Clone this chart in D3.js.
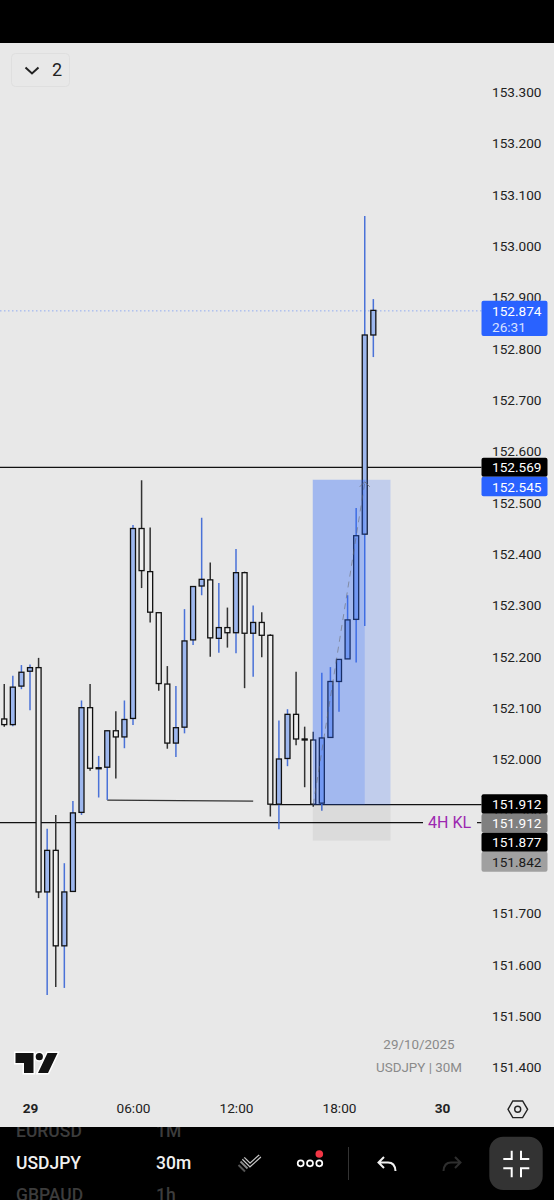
<!DOCTYPE html>
<html>
<head>
<meta charset="utf-8">
<script src="https://cdn.jsdelivr.net/npm/d3@7"></script>
<style>
    html, body { margin: 0; padding: 0; background: #e8e8e8; overflow: hidden; }
    svg { display: block; font-family: Roboto, sans-serif; }
</style>
</head>
<body>
<div id="chart"></div>
<script>
// bar index 0 is 00:00 on the 29th, one bar is 30 minutes
const firstBar = -3;
const opens = [152.079, 152.068, 152.143, 152.172, 152.179, 151.742, 151.823, 151.637, 151.743, 151.897, 152.101,
    151.982, 151.985, 152.056, 152.044, 152.080, 152.450, 152.366, 152.286, 152.147, 152.032, 152.063,
    152.233, 152.338, 152.350, 152.236, 152.257, 152.247, 152.364, 152.246, 152.267, 152.242, 151.913,
    152.002, 152.088, 152.040, 152.038, 151.915, 152.043, 152.152, 152.196, 152.273, 152.439, 152.827];
const highs = [152.147, 152.163, 152.184, 152.185, 152.198, 151.865, 151.892, 151.798, 151.919, 152.115, 152.147,
    152.007, 152.057, 152.094, 152.115, 152.457, 152.544, 152.452, 152.286, 152.182, 152.143, 152.293,
    152.337, 152.471, 152.384, 152.344, 152.296, 152.410, 152.366, 152.300, 152.287, 152.244, 152.076,
    152.098, 152.171, 152.064, 152.054, 152.169, 152.180, 152.195, 152.320, 152.490, 153.059, 152.897];
const lows = [152.064, 152.065, 152.137, 152.096, 151.730, 151.541, 151.557, 151.555, 151.743, 151.892, 151.978,
    151.926, 151.921, 151.963, 152.022, 152.067, 152.334, 152.267, 152.134, 152.021, 152.005, 152.051,
    152.223, 152.320, 152.200, 152.208, 152.218, 152.207, 152.139, 152.161, 152.199, 151.889, 151.864,
    151.987, 152.028, 151.946, 151.908, 151.900, 152.043, 152.093, 152.196, 152.189, 152.260, 152.784];
const closes = [152.068, 152.141, 152.170, 152.179, 151.742, 151.823, 151.637, 151.742, 151.896, 152.101, 151.983,
    151.984, 152.056, 152.044, 152.078, 152.450, 152.368, 152.287, 152.148, 152.032, 152.062, 152.231,
    152.337, 152.351, 152.237, 152.257, 152.247, 152.364, 152.246, 152.267, 152.242, 151.913, 152.001,
    152.088, 152.040, 152.038, 151.913, 152.042, 152.152, 152.195, 152.272, 152.436, 152.827, 152.875];

const priceTicks = [153.3, 153.2, 153.1, 153.0, 152.9, 152.8, 152.7, 152.6, 152.5, 152.4, 152.3, 152.2, 152.1,
    152.0, 151.9, 151.8, 151.7, 151.6, 151.5, 151.4];
const timeTicks = [0, 12, 24, 36, 48];
const timeLabels = ["29", "06:00", "12:00", "18:00", "30"];

// position tool: bars and prices
const boxBars = [33, 39, 42];
const boxPrices = [152.545, 151.912, 151.842];

const lastPrice = 152.874;
const levelTop = 152.569;
const levelEntry = 151.912;
const levelKL = 151.877;
const swingBars = [9, 26];
const swingPrices = [151.921, 151.919];
const entryStartBar = 28;

const priceTags = [
    {text: "152.569", y0: 457.7, y1: 476.7, fill: "#000", color: "#fff"},
    {text: "152.545", y0: 476.7, y1: 496.3, fill: "#2962ff", color: "#fff"},
    {text: "151.912", y0: 794.3, y1: 813.7, fill: "#000", color: "#fff"},
    {text: "151.912", y0: 813.7, y1: 832.7, fill: "#808080", color: "#fff"},
    {text: "151.877", y0: 832.7, y1: 851.7, fill: "#000", color: "#fff"},
    {text: "151.842", y0: 851.7, y1: 871.7, fill: "#a0a0a0", color: "#1a1a1a"}
];

const width = 554, height = 1200;
const tagX = 481.5, tagW = 66;

const svg = d3.select("#chart").append("svg")
    .attr("width", width)
    .attr("height", height);

var x = d3.scaleLinear().domain([0, 48]).range([30, 442]);
var y = d3.scaleLinear().domain([151.4, 153.3]).range([1067.5, 92.2]);

svg.append("rect").attr("width", width).attr("height", height).attr("fill", "#e8e8e8");

// dotted last price line
svg.append("line")
    .attr("x1", 0).attr("x2", tagX)
    .attr("y1", y(lastPrice)).attr("y2", y(lastPrice))
    .attr("stroke", "#2962ff").attr("stroke-opacity", 0.45)
    .attr("stroke-dasharray", "1.5,2.5");

// price axis
var yAxis = svg.append("g")
    .attr("transform", "translate(492,0)")
    .call(d3.axisRight(y).tickValues(priceTicks).tickSize(0).tickPadding(0).tickFormat(d3.format(".3f")));
yAxis.select(".domain").remove();
yAxis.selectAll("text").attr("font-size", 13.6).attr("font-family", "Roboto").attr("fill", "#222");

// time axis
var xAxis = svg.append("g")
    .attr("transform", "translate(0,1103)")
    .call(d3.axisBottom(x).tickValues(timeTicks).tickSize(0).tickPadding(0)
        .tickFormat((d, i) => timeLabels[i]));
xAxis.select(".domain").remove();
xAxis.selectAll("text")
    .attr("font-size", 13.6)
    .attr("font-family", "Roboto")
    .attr("fill", "#222")
    .attr("font-weight", (d, i) => (i === 0 || i === 4) ? 700 : 400);

// horizontal levels
const lineLayer = svg.append("g").attr("stroke", "#111").attr("stroke-width", 1.2);
lineLayer.append("line").attr("x1", 0).attr("x2", tagX).attr("y1", y(levelTop)).attr("y2", y(levelTop));
lineLayer.append("line").attr("x1", x(entryStartBar)).attr("x2", tagX).attr("y1", y(levelEntry)).attr("y2", y(levelEntry));
lineLayer.append("line").attr("x1", 0).attr("x2", 423).attr("y1", y(levelKL)).attr("y2", y(levelKL));
lineLayer.append("line").attr("x1", 477).attr("x2", tagX).attr("y1", y(levelKL)).attr("y2", y(levelKL));
lineLayer.append("line")
    .attr("x1", x(swingBars[0])).attr("x2", x(swingBars[1]))
    .attr("y1", y(swingPrices[0])).attr("y2", y(swingPrices[1]))
    .attr("stroke", "#333");

svg.append("text")
    .attr("x", 428).attr("y", y(levelKL) + 5.5)
    .attr("font-size", 16).attr("fill", "#9c27b0")
    .text("4H KL");

// candles
var candles = opens.map((o, i) => ({bar: firstBar + i, open: o, high: highs[i], low: lows[i], close: closes[i]}));

var candle = svg.append("g").selectAll("g")
    .data(candles)
    .join("g");

candle.append("line")
    .attr("x1", d => x(d.bar)).attr("x2", d => x(d.bar))
    .attr("y1", d => y(d.high)).attr("y2", d => y(d.low))
    .attr("stroke", d => d.close >= d.open ? "#4a72d8" : "#333")
    .attr("stroke-width", 1.5);

candle.append("rect")
    .attr("x", d => x(d.bar) - 2.5)
    .attr("width", 5)
    .attr("y", d => y(Math.max(d.open, d.close)))
    .attr("height", d => Math.abs(y(d.open) - y(d.close)))
    .attr("fill", d => d.close >= d.open ? "#9db7ee" : "#eeeeee")
    .attr("stroke", "#111")
    .attr("stroke-width", 1.3);

// long position box drawn over the candles
svg.append("rect")
    .attr("x", x(boxBars[0]) - 0.5).attr("width", x(boxBars[2]) - x(boxBars[0]) + 0.5)
    .attr("y", y(boxPrices[0])).attr("height", y(boxPrices[1]) - y(boxPrices[0]))
    .attr("fill", "#2962ff").attr("fill-opacity", 0.2);
svg.append("rect")
    .attr("x", x(boxBars[0]) - 0.5).attr("width", x(boxBars[1]) - x(boxBars[0]) + 0.5)
    .attr("y", y(boxPrices[0])).attr("height", y(boxPrices[1]) - y(boxPrices[0]))
    .attr("fill", "#2962ff").attr("fill-opacity", 0.2);
svg.append("rect")
    .attr("x", x(boxBars[0]) - 0.5).attr("width", x(boxBars[2]) - x(boxBars[0]) + 0.5)
    .attr("y", y(boxPrices[1])).attr("height", y(boxPrices[2]) - y(boxPrices[1]))
    .attr("fill", "#000").attr("fill-opacity", 0.055);

// dashed path inside the box with its arrow head
svg.append("line")
    .attr("x1", x(boxBars[0])).attr("y1", y(boxPrices[1]))
    .attr("x2", x(boxBars[1])).attr("y2", y(boxPrices[0]) + 3)
    .attr("stroke", "#666").attr("stroke-opacity", 0.55)
    .attr("stroke-dasharray", "6,5");
svg.append("path")
    .attr("d", d3.line()([[x(boxBars[1]) - 5, y(boxPrices[0]) + 7], [x(boxBars[1]), y(boxPrices[0]) + 2], [x(boxBars[1]) + 5, y(boxPrices[0]) + 7]]))
    .attr("fill", "none").attr("stroke", "#666").attr("stroke-opacity", 0.7);

// price tags on the axis
svg.append("g").selectAll("rect")
    .data(priceTags)
    .join("rect")
    .attr("x", tagX).attr("width", tagW)
    .attr("y", d => d.y0).attr("height", d => d.y1 - d.y0)
    .attr("rx", 2)
    .attr("fill", d => d.fill);
svg.append("g").selectAll("text")
    .data(priceTags)
    .join("text")
    .attr("x", 492).attr("y", d => (d.y0 + d.y1) / 2 + 5)
    .attr("font-size", 13.6)
    .attr("fill", d => d.color)
    .text(d => d.text);

svg.append("rect").attr("x", tagX).attr("y", 300.7).attr("width", tagW).attr("height", 35.3).attr("rx", 2).attr("fill", "#2962ff");
svg.append("text").attr("x", 492).attr("y", 316).attr("font-size", 13.6).attr("fill", "#fff").text("152.874");
svg.append("text").attr("x", 492).attr("y", 332).attr("font-size", 13.6).attr("fill", "#d6e0ff").text("26:31");

// watermark
svg.append("text").attr("x", 419).attr("y", 1049).attr("text-anchor", "middle")
    .attr("font-size", 13.4).attr("fill", "#8a8a8a").text("29/10/2025");
svg.append("text").attr("x", 419).attr("y", 1072).attr("text-anchor", "middle")
    .attr("font-size", 13.4).attr("fill", "#8a8a8a").text("USDJPY | 30M");

// logo
var logo = svg.append("g");
var logoShapes = "M15.5,1053H33.5V1073H24V1063H15.5Z M47.5,1053H57.5L48,1073H38Z";
logo.append("path").attr("d", logoShapes).attr("fill", "#fff").attr("stroke", "#fff").attr("stroke-width", 3);
logo.append("circle").attr("cx", 39.3).attr("cy", 1056.7).attr("r", 3.6).attr("fill", "#fff").attr("stroke", "#fff").attr("stroke-width", 3);
logo.append("path").attr("d", logoShapes).attr("fill", "#131313");
logo.append("circle").attr("cx", 39.3).attr("cy", 1056.7).attr("r", 3.6).attr("fill", "#131313");

// legend toggle, top left
svg.append("rect").attr("x", 11.5).attr("y", 53.5).attr("width", 58).attr("height", 33).attr("rx", 4)
    .attr("fill", "#e8e8e8").attr("stroke", "#dfdfdf");
svg.append("path").attr("d", "M25.5,67.5L32,73.5L38.5,67.5").attr("fill", "none").attr("stroke", "#222").attr("stroke-width", 2);
svg.append("text").attr("x", 52).attr("y", 76).attr("font-size", 18).attr("fill", "#222").text("2");

// settings hexagon
svg.append("path").attr("d", "M508,1109.3L512.8,1101H522.6L527.6,1109.3L522.6,1117.6H512.8Z")
    .attr("fill", "none").attr("stroke", "#222").attr("stroke-width", 1.4);
svg.append("circle").attr("cx", 517.7).attr("cy", 1109.3).attr("r", 3).attr("fill", "none").attr("stroke", "#222").attr("stroke-width", 1.4);

// black phone bars
svg.append("rect").attr("width", width).attr("height", 43).attr("fill", "#000");
var toolbar = svg.append("svg").attr("x", 0).attr("y", 1127).attr("width", width).attr("height", 73);
toolbar.append("rect").attr("width", width).attr("height", 73).attr("fill", "#000");
var tb = toolbar.append("g").attr("transform", "translate(0,-1127)");

const toolbarRows = [
    {name: "EURUSD", tf: "1M", y: 1137, color: "#3c3c3c"},
    {name: "USDJPY", tf: "30m", y: 1169, color: "#f0f0f0"},
    {name: "GBPAUD", tf: "1h", y: 1201, color: "#3c3c3c"}
];
toolbarRows.forEach(r => {
    tb.append("text").attr("x", 16).attr("y", r.y).attr("font-size", 17.5).attr("font-weight", 500).attr("fill", r.color).text(r.name);
    tb.append("text").attr("x", 156).attr("y", r.y).attr("font-size", 17.5).attr("font-weight", 500).attr("fill", r.color).text(r.tf);
});

// toolbar icons
tb.append("path").attr("d", "M243.3,1158.3L250,1165L260,1156").attr("fill", "none").attr("stroke", "#c8c8c8").attr("stroke-width", 4);
tb.append("path").attr("d", "M243.3,1158.3L250,1165L260,1156").attr("fill", "none").attr("stroke", "#000").attr("stroke-width", 1.6);
tb.append("path").attr("d", "M240.5,1161.5L247.5,1168.5").attr("stroke", "#8a8a8a").attr("stroke-width", 2);
tb.append("path").attr("d", "M238.5,1165L245,1171.5").attr("stroke", "#555").attr("stroke-width", 2);

tb.selectAll("circle.dot")
    .data([300.7, 310, 319.3])
    .join("circle")
    .attr("class", "dot")
    .attr("cx", d => d).attr("cy", 1163.3).attr("r", 3)
    .attr("fill", "none").attr("stroke", "#fff").attr("stroke-width", 1.7);
tb.append("circle").attr("cx", 319.3).attr("cy", 1154).attr("r", 3.8).attr("fill", "#f23645");

tb.append("line").attr("x1", 348.5).attr("x2", 348.5).attr("y1", 1147).attr("y2", 1180).attr("stroke", "#333");

tb.append("path").attr("d", "M384,1157L378.5,1162.5L384,1168M378.5,1162.5H388Q395,1162.5 395.5,1171")
    .attr("fill", "none").attr("stroke", "#f0f0f0").attr("stroke-width", 2);
tb.append("path").attr("d", "M455,1157L460.5,1162.5L455,1168M460.5,1162.5H451Q444,1162.5 443.5,1171")
    .attr("fill", "none").attr("stroke", "#2e2e2e").attr("stroke-width", 2);

tb.append("rect").attr("x", 489.3).attr("y", 1136.7).attr("width", 53.4).attr("height", 53.3).attr("rx", 14).attr("fill", "#333");
tb.append("path")
    .attr("d", "M503.3,1159H511.7V1150.7M521,1150.7V1159H529.3M503.3,1168.3H511.7V1177.3M529.3,1168.3H521V1177.3")
    .attr("fill", "none").attr("stroke", "#fff").attr("stroke-width", 2);
</script>
</body>
</html>
